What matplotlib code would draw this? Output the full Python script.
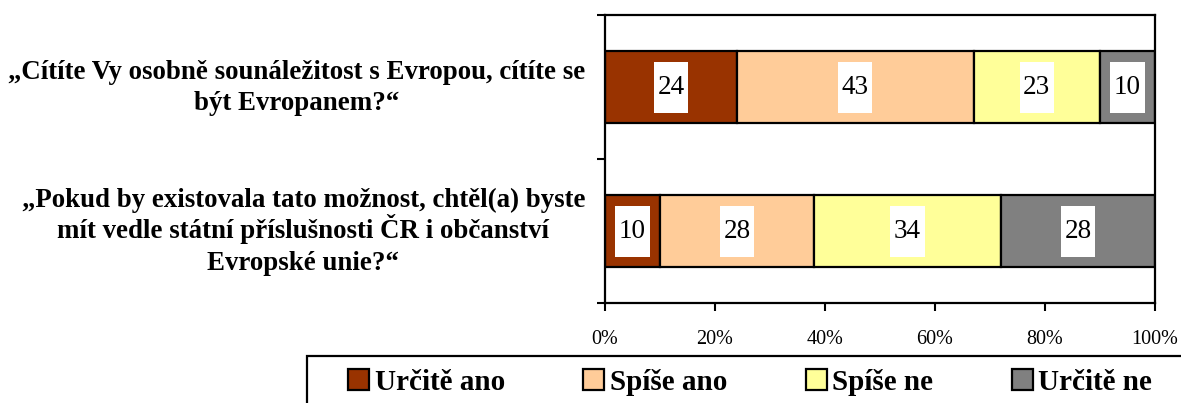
import matplotlib
matplotlib.use("Agg")
import matplotlib.pyplot as plt
from matplotlib.path import Path
from matplotlib.patches import Rectangle, Patch
import numpy as np

questions = [
    "\u201eCítíte Vy osobně sounáležitost s Evropou, cítíte se\nbýt Evropanem?\u201c",
    "\u201ePokud by existovala tato možnost, chtěl(a) byste\nmít vedle státní příslušnosti ČR i občanství\nEvropské unie?\u201c",
]
series_names = ["Určitě ano", "Spíše ano", "Spíše ne", "Určitě ne"]
values = {
    "Určitě ano": [24, 10],
    "Spíše ano": [43, 28],
    "Spíše ne": [23, 34],
    "Určitě ne": [10, 28],
}
colors = ["#993300", "#FFCC99", "#FFFF99", "#808080"]
x_ticks = [0, 20, 40, 60, 80, 100]
x_tick_labels = ["0%", "20%", "40%", "60%", "80%", "100%"]

W, H = 1181, 403
fig = plt.figure(figsize=(W / 100, H / 100), dpi=100)
ax = fig.add_axes([605 / W, 1 - 303 / H, (1155 - 605) / W, (303 - 15) / H])

serif = ["Liberation Serif", "DejaVu Serif"]


def labelbox(x0, y0, width, height, mutation_size):
    px = 0.13 * mutation_size
    py = 0.48 * mutation_size
    x0 -= px
    y0 -= py
    x1 = x0 + width + 2 * px
    y1 = y0 + height + 2 * py
    return Path([(x0, y0), (x1, y0), (x1, y1), (x0, y1), (x0, y0)],
                [Path.MOVETO, Path.LINETO, Path.LINETO, Path.LINETO, Path.CLOSEPOLY])


ypos = np.arange(len(questions))
left = np.zeros(len(questions))
for name, col in zip(series_names, colors):
    vals = np.array(values[name], dtype=float)
    ax.barh(ypos, vals, left=left, height=0.5, color=col, edgecolor="black",
            linewidth=1.6, label=name, zorder=2)
    for y, l, v in zip(ypos, left, vals):
        ax.text(l + v / 2, y, f"{int(v)}", ha="center", va="center",
                fontsize=19.5, family=serif, color="black", zorder=3,
                bbox=dict(boxstyle=labelbox, facecolor="white", edgecolor="none"))
    left += vals

ax.set_xlim(0, 100)
ax.set_ylim(1.5, -0.5)
ax.set_xticks(x_ticks)
ax.set_xticklabels(x_tick_labels, family=serif, fontsize=14.5)
ax.tick_params(axis="x", direction="out", length=5.5, width=1.5, pad=14)

ax.set_yticks([-0.5, 0.5, 1.5])
ax.set_yticklabels([])
ax.tick_params(axis="y", which="major", direction="out", length=6, width=1.5)

for sp in ax.spines.values():
    sp.set_linewidth(1.6)
    sp.set_color("black")

# category labels: each line placed separately (baseline aligned) for even
# line spacing; block centred so its widest line ends 20 px left of the axis
renderer = fig.canvas.get_renderer()
px2pt = 72 / fig.dpi
line_step = 31.5 * px2pt
base_shift = 7.5 * px2pt
label_gap = 20 * px2pt
for y, q in zip(ypos, questions):
    lines = q.split("\n")
    n = len(lines)
    anns = []
    offs = []
    for i, ln in enumerate(lines):
        dy = ((n - 1) / 2 - i) * line_step - base_shift
        a = ax.annotate(ln, xy=(0, y), xycoords=("axes fraction", "data"),
                        xytext=(0, dy), textcoords="offset points",
                        ha="center", va="baseline",
                        family=serif, fontweight="bold", fontsize=19.4,
                        annotation_clip=False)
        anns.append(a)
        offs.append(dy)
    maxw = max(a.get_window_extent(renderer).width for a in anns) * px2pt
    for a, dy in zip(anns, offs):
        a.set_position((-label_gap - maxw / 2, dy))

# legend frame (extends beyond canvas like in reference)
fig.patches.append(Rectangle((307 / W, -0.1), 1.0, 1 - 356 / H + 0.1,
                             transform=fig.transFigure, facecolor="white",
                             edgecolor="black", linewidth=1.6, zorder=0))

handles = [Patch(facecolor=c, edgecolor="black", linewidth=1.6) for c in colors]
fig.legend(handles, series_names, loc="center left",
           bbox_to_anchor=(348 / W, 1 - 382 / H), ncol=4, frameon=False,
           prop=dict(family=serif, weight="bold", size=21),
           handlelength=0.72, handleheight=0.72, handletextpad=0.2,
           columnspacing=2.68, borderpad=0, borderaxespad=0)

fig.savefig("out.png", dpi=100)
